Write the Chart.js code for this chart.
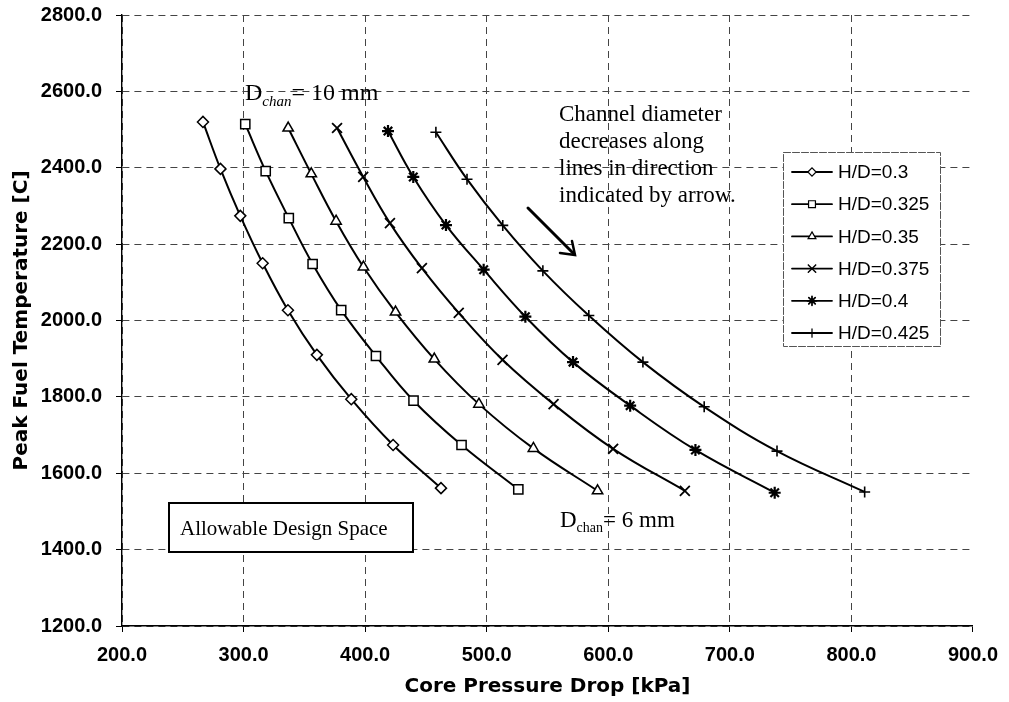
<!DOCTYPE html>
<html><head><meta charset="utf-8">
<script src="https://cdn.jsdelivr.net/npm/chart.js@4.4.1/dist/chart.umd.min.js"></script>
<style>html,body{margin:0;padding:0;background:#fff}canvas{display:block}</style>
</head><body>
<canvas id="c" width="1009" height="702"></canvas>
<script>
// ---- data ----
const seriesLabels = ['H/D=0.3','H/D=0.325','H/D=0.35','H/D=0.375','H/D=0.4','H/D=0.425'];
const xTicks = [200,300,400,500,600,700,800,900];
const yTicks = [1200,1400,1600,1800,2000,2200,2400,2600,2800];

const x_hd0300 = [266.6, 281.0, 297.3, 315.7, 336.5, 360.3, 388.6, 423.0, 462.4];
const y_hd0300 = [2520, 2397, 2274, 2150, 2027, 1910, 1794, 1674, 1561];
const x_hd0325 = [301.4, 318.2, 337.2, 356.8, 380.3, 408.9, 439.8, 479.3, 526.0];
const y_hd0325 = [2514, 2391, 2268, 2148, 2027, 1907, 1790, 1674, 1558];
const x_hd0350 = [336.7, 355.7, 376.1, 398.6, 425.0, 456.9, 493.6, 538.4, 591.2];
const y_hd0350 = [2504, 2384, 2260, 2140, 2022, 1899, 1781, 1665, 1554];
const x_hd0375 = [376.9, 398.4, 420.4, 446.7, 477.0, 513.0, 555.0, 604.0, 663.0];
const y_hd0375 = [2504, 2376, 2255, 2137, 2020, 1897, 1781, 1664, 1554];
const x_hd0400 = [418.8, 439.6, 466.5, 497.5, 531.8, 571.0, 618.0, 671.7, 736.9];
const y_hd0400 = [2496, 2376, 2250, 2133, 2010, 1891, 1777, 1661, 1549];
const x_hd0425 = [458.2, 483.8, 513.2, 546.2, 584.0, 628.5, 678.9, 738.8, 810.9];
const y_hd0425 = [2493, 2370, 2249, 2130, 2013, 1891, 1774, 1658, 1551];

const xs = [x_hd0300, x_hd0325, x_hd0350, x_hd0375, x_hd0400, x_hd0425];
const ys = [y_hd0300, y_hd0325, y_hd0350, y_hd0375, y_hd0400, y_hd0425];

// ---- styles ----
const markerStyles = [
  {pointStyle:'rectRot', radius:5.5, borderWidth:1.5, fill:'#fff'},
  {pointStyle:'rect', radius:6.5, borderWidth:1.5, fill:'#fff'},
  {pointStyle:'triangle', radius:6, borderWidth:1.5, fill:'#fff'},
  {pointStyle:'crossRot', radius:7, borderWidth:1.8, fill:'#000'},
  {pointStyle:'star', radius:6, borderWidth:2.2, fill:'#000'},
  {pointStyle:'cross', radius:5.5, borderWidth:1.6, fill:'#000'}
];

const datasets = seriesLabels.map((lab, i) => ({
  label: lab,
  data: xs[i].map((x, j) => ({x: x, y: ys[i][j]})),
  borderColor: '#000',
  borderWidth: 2,
  tension: 0.4,
  fill: false,
  pointStyle: markerStyles[i].pointStyle,
  pointRadius: markerStyles[i].radius,
  pointBorderWidth: markerStyles[i].borderWidth,
  pointBackgroundColor: markerStyles[i].fill,
  pointBorderColor: '#000'
}));

const SERIF = '"Liberation Serif", "Times New Roman", serif';
const SANS = '"Liberation Sans", Arial, sans-serif';
const WIDE = '"DejaVu Sans", "Liberation Sans", sans-serif';

function drawSubText(ctx, x, y, parts) {
  let cx = x;
  parts.forEach(p => {
    ctx.font = p[1];
    ctx.fillText(p[0], cx, y + (p[2] || 0));
    cx += ctx.measureText(p[0]).width;
  });
}

const annotations = {
  id: 'annotations',
  afterDraw(chart) {
    const ctx = chart.ctx;
    ctx.save();
    ctx.fillStyle = '#000';
    ctx.textBaseline = 'alphabetic';
    ctx.textAlign = 'left';

    // D_chan = 10 mm
    drawSubText(ctx, 245, 100, [
      ['D', '24px ' + SERIF, 0],
      ['chan', 'italic 15px ' + SERIF, 6],
      ['= 10 mm', '24px ' + SERIF, 0]
    ]);
    // D_chan = 6 mm
    drawSubText(ctx, 560, 527, [
      ['D', '23px ' + SERIF, 0],
      ['chan', '14px ' + SERIF, 5],
      ['= 6 mm', '23px ' + SERIF, 0]
    ]);

    // Channel diameter text
    ctx.font = '23px ' + SERIF;
    const lines = ['Channel diameter', 'decreases along', 'lines in direction', 'indicated by arrow.'];
    lines.forEach((t, k) => ctx.fillText(t, 559, 121 + k * 27));

    // arrow
    ctx.strokeStyle = '#000';
    ctx.lineWidth = 3;
    ctx.lineCap = 'round';
    ctx.beginPath();
    ctx.moveTo(528, 208);
    ctx.lineTo(574, 254);
    ctx.stroke();
    ctx.lineWidth = 2.5;
    ctx.beginPath();
    ctx.moveTo(560, 253);
    ctx.lineTo(575, 255);
    ctx.lineTo(572, 241);
    ctx.stroke();

    // Allowable Design Space box
    ctx.fillStyle = '#fff';
    ctx.fillRect(169, 503, 244, 49);
    ctx.strokeStyle = '#000';
    ctx.lineWidth = 2;
    ctx.strokeRect(169, 503, 244, 49);
    ctx.fillStyle = '#000';
    ctx.font = '21px ' + SERIF;
    ctx.fillText('Allowable Design Space', 180, 535);

    // Legend
    const lx = 783, ly = 152, lw = 157, lh = 194;
    ctx.fillStyle = '#fff';
    ctx.fillRect(lx, ly, lw, lh);
    ctx.strokeStyle = '#555';
    ctx.lineWidth = 1;
    ctx.setLineDash([7, 2]);
    ctx.strokeRect(lx + 0.5, ly + 0.5, lw, lh);
    ctx.setLineDash([]);
    chart.data.datasets.forEach((ds, i) => {
      const yy = 172 + i * 32.2;
      ctx.strokeStyle = '#000';
      ctx.lineWidth = 1.8;
      ctx.beginPath();
      ctx.moveTo(792, yy);
      ctx.lineTo(832, yy);
      ctx.stroke();
      ctx.fillStyle = markerStyles[i].fill;
      ctx.lineWidth = markerStyles[i].borderWidth * 0.8;
      Chart.helpers.drawPoint(ctx, {
        pointStyle: markerStyles[i].pointStyle,
        radius: markerStyles[i].radius * 0.75,
        borderWidth: markerStyles[i].borderWidth * 0.8,
        rotation: 0
      }, 812, yy);
      ctx.fillStyle = '#000';
      ctx.font = '19px ' + SANS;
      ctx.textBaseline = 'middle';
      ctx.fillText(ds.label, 838, yy + 1);
      ctx.textBaseline = 'alphabetic';
    });
    ctx.restore();
  }
};

const gridColor = (c) => (c.tick && c.tick.value === 900) ? 'rgba(0,0,0,0)' : '#444';

new Chart(document.getElementById('c'), {
  type: 'line',
  data: { datasets: datasets },
  plugins: [annotations],
  options: {
    responsive: false,
    animation: false,
    layout: { padding: { top: 15, right: 34, left: 0, bottom: 0 } },
    plugins: { legend: { display: false }, tooltip: { enabled: false } },
    scales: {
      x: {
        type: 'linear',
        min: xTicks[0], max: xTicks[xTicks.length - 1],
        afterBuildTicks: (s) => { s.ticks = xTicks.map(v => ({value: v})); },
        afterFit: (s) => { s.height = 76; },
        ticks: {
          callback: (v) => Number(v).toFixed(1),
          font: { family: SANS, size: 20, weight: 'bold' },
          color: '#000',
          padding: 11,
          maxRotation: 0
        },
        grid: { color: gridColor, lineWidth: 1, tickColor: '#000', tickLength: 6, borderDash: [7, 5] },
        border: { color: '#000', width: 1.6, dash: [7, 5] },
        title: {
          display: true, text: 'Core Pressure Drop [kPa]', color: '#000',
          font: { family: WIDE, size: 20, weight: 'bold' }, padding: { top: 4, bottom: 3 }
        }
      },
      y: {
        type: 'linear',
        min: yTicks[0], max: yTicks[yTicks.length - 1],
        afterBuildTicks: (s) => { s.ticks = yTicks.map(v => ({value: v})); },
        afterFit: (s) => { s.width = 122; s.paddingTop = 0; s.paddingBottom = 0; },
        ticks: {
          callback: (v) => Number(v).toFixed(1),
          font: { family: SANS, size: 20, weight: 'bold' },
          color: '#000',
          padding: 14
        },
        grid: { color: '#444', lineWidth: 1, tickColor: '#000', tickLength: 6, borderDash: [7, 5] },
        border: { color: '#000', width: 1.4, dash: [7, 5] },
        title: {
          display: true, text: 'Peak Fuel Temperature [C]', color: '#000',
          font: { family: WIDE, size: 20, weight: 'bold' }, padding: { top: 10, bottom: 4 }
        }
      }
    }
  }
});
</script>
</body></html>
